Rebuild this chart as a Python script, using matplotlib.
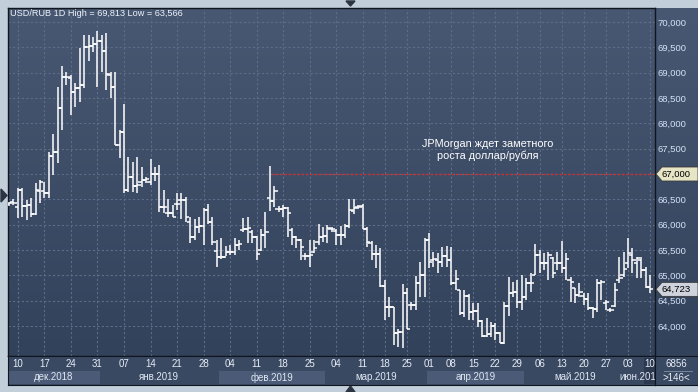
import numpy as np
import matplotlib
matplotlib.use('Agg')
import matplotlib.pyplot as plt
import matplotlib.transforms as mtransforms
from matplotlib.colors import LinearSegmentedColormap
from matplotlib.patches import Rectangle, Polygon

plt.rcParams['font.family'] = ['Liberation Sans', 'DejaVu Sans']

# USD/RUB daily bars
opens = [66408, 66454, 66356, 66685, 66369, 66389, 66211, 66672, 66672, 66632,
         67356, 67441, 68297, 68922, 68889, 68625, 68691, 68757, 69501, 69527,
         69566, 69632, 69435, 68954, 68724, 67573, 67836, 66685, 66948, 66764,
         66849, 66882, 66849, 67000, 67000, 66343, 66237, 66224, 66408, 66487,
         66487, 66050, 65750, 65960, 65980, 66289, 66059, 65486, 65355, 65368,
         65467, 65467, 65598, 65900, 65908, 65850, 65750, 65500, 65796, 66519,
         66460, 66302, 66302, 66322, 65900, 65763, 65697, 65381, 65381, 65460,
         65650, 65750, 65776, 65914, 65880, 65796, 65796, 65973, 66276, 66342,
         66368, 65908, 65632, 65421, 65421, 64789, 64381, 64381, 63868, 63888,
         64645, 64414, 64414, 64842, 65007, 65697, 65303, 65303, 65270, 65381,
         65303, 64855, 64710, 64263, 64592, 64283, 64302, 64105, 63802, 63842,
         63999, 63855, 63671, 64395, 64645, 64678, 64480, 64579, 64842, 65006,
         65401, 65237, 65250, 65350, 65237, 65237, 65138, 64900, 64743, 64612,
         64600, 64526, 64349, 64329, 64855, 64450, 64316, 64400, 64900, 65000,
         65250, 65400, 65250, 65300, 65105, 64776]
highs = [66454, 66500, 66718, 66718, 66487, 66520, 66816, 66882, 66849, 67441,
         67790, 68724, 69132, 69020, 68954, 68790, 69481, 69744, 69744, 69711,
         69813, 69744, 69790, 69020, 69020, 67869, 68382, 67343, 67244, 67343,
         67145, 66948, 67290, 67145, 67178, 66685, 66500, 66389, 66619, 66619,
         66553, 66157, 66110, 66144, 66322, 66408, 66144, 65700, 65730, 65578,
         65598, 65730, 65697, 66125, 66144, 65894, 65776, 65908, 66256, 67157,
         66763, 66368, 66388, 66342, 65927, 65776, 65710, 65433, 65697, 65697,
         66013, 65947, 65993, 65960, 65908, 65973, 66013, 66500, 66500, 66388,
         66408, 65961, 65684, 65599, 65533, 64908, 64566, 64381, 63934, 64829,
         64743, 64480, 64987, 65270, 65730, 65829, 65467, 65434, 65566, 65579,
         65566, 65105, 64710, 64710, 64631, 64447, 64447, 64118, 64151, 64085,
         64052, 63888, 64480, 64959, 64875, 64908, 65006, 64941, 65039, 65618,
         65500, 65434, 65467, 65368, 65467, 65684, 65434, 64974, 64743, 64842,
         64645, 64645, 64368, 64921, 64908, 64513, 64349, 64842, 65368, 65467,
         65730, 65533, 65368, 65368, 65171, 65006]
lows = [66369, 66382, 66125, 66158, 66092, 66158, 66191, 66421, 66520, 66520,
        66981, 67224, 67869, 68757, 68165, 68329, 68428, 68691, 69237, 69415,
        68724, 69020, 68658, 68494, 67573, 67310, 66619, 66652, 66652, 66619,
        66750, 66816, 66783, 66869, 66257, 66237, 66158, 66145, 66290, 66105,
        66050, 65631, 65700, 65829, 65598, 66013, 65598, 65171, 65315, 65381,
        65400, 65400, 65500, 65861, 65631, 65644, 65302, 65486, 65533, 66276,
        66342, 66256, 66144, 65763, 65598, 65533, 65302, 65302, 65171, 65447,
        65598, 65664, 65631, 65861, 65598, 65598, 65730, 65927, 66211, 66303,
        65908, 65566, 65303, 65138, 64776, 64118, 64171, 63625, 63592, 63566,
        63934, 64316, 64316, 64579, 64566, 65138, 65171, 65039, 65171, 65171,
        64809, 64710, 64217, 64184, 64118, 64118, 63986, 63789, 63789, 63789,
        63724, 63658, 63645, 64197, 64579, 64349, 64316, 64513, 64678, 65006,
        65039, 65105, 64908, 64941, 65105, 65039, 64908, 64480, 64447, 64579,
        64414, 64316, 64151, 64283, 64513, 64316, 64283, 64382, 64842, 64974,
        65138, 65039, 64941, 64941, 64743, 64645]
closes = [66422, 66422, 66685, 66369, 66389, 66211, 66685, 66849, 66632, 67356,
          67441, 68297, 68922, 68908, 68625, 68691, 68757, 69501, 69527, 69566,
          69632, 69435, 68974, 68724, 67573, 67836, 66685, 66948, 66764, 66783,
          66882, 66895, 67000, 67000, 66343, 66343, 66224, 66158, 66408, 66487,
          66150, 65750, 65960, 65980, 66289, 66059, 65650, 65355, 65368, 65467,
          65467, 65598, 65618, 65908, 65927, 65750, 65421, 65796, 65861, 66460,
          66671, 66302, 66322, 66223, 65763, 65697, 65565, 65381, 65401, 65533,
          65750, 65776, 65927, 65914, 65796, 65796, 65973, 66289, 66322, 66355,
          65908, 65664, 65421, 65421, 64789, 64381, 64381, 63855, 63888, 64645,
          63934, 64414, 64842, 65007, 65697, 65270, 65316, 65270, 65381, 65303,
          64855, 64921, 64263, 64592, 64283, 64302, 64105, 63802, 63842, 63999,
          63855, 63671, 64395, 64645, 64678, 64480, 64579, 64842, 64855, 65401,
          65237, 65250, 65401, 65039, 65237, 65138, 65316, 64875, 64612, 64678,
          64526, 64349, 64329, 64855, 64875, 64480, 64316, 64710, 64941, 65118,
          65434, 65303, 65335, 65105, 64776, 64723]

tick_pos = [2, 8, 14, 20, 26, 32, 38, 44, 50, 56, 62, 68, 74, 80, 85, 90, 95,
            100, 105, 110, 115, 120, 125, 130, 135, 140, 145]
tick_labels = ['10', '17', '24', '31', '07', '14', '21', '28', '04', '11', '18',
               '25', '04', '11', '18', '25', '01', '08', '15', '22', '29', '06',
               '13', '20', '27', '03', '10']
month_names = ['дек.2018', 'янв.2019', 'фев.2019', 'мар.2019', 'апр.2019',
               'май.2019', 'июн.2019']
month_starts = [-0.5, 20.5, 47.5, 71.5, 94.5, 116.5, 139.5]

level = 67000
level_from = 59.5
last_price = 64723
title = 'USD/RUB 1D High = 69,813 Low = 63,566'
note = 'JPMorgan ждет заметного\nроста доллар/рубля'

W, H = 698, 392
X0, X1 = -0.23, 146.1
Y0, Y1 = 63408, 70276


def box(x0, y0, x1, y1):
    # pixel box (from top-left) -> figure fraction rect
    return [x0 / W, 1 - y1 / H, (x1 - x0) / W, (y1 - y0) / H]


fig = plt.figure(figsize=(W / 100, H / 100), dpi=100)
fig.patch.set_facecolor('#c3cedb')

# gradient background for plot + price scale
bg = fig.add_axes(box(8, 8, 698, 356), zorder=0)
cmap = LinearSegmentedColormap.from_list('bg', ['#485872', '#33425b'])
bg.imshow(np.linspace(0, 1, 256).reshape(-1, 1), cmap=cmap, aspect='auto',
          extent=[0, 1, 0, 1])
bg.set_axis_off()

ax = fig.add_axes(box(8, 8, 655, 356), zorder=1)
ax.set_facecolor('none')
ax.set_xlim(X0, X1)
ax.set_ylim(Y0, Y1)

grid_c = '#5d6d88'
yt = list(range(64000, 70001, 500))
ax.set_xticks(tick_pos)
ax.set_yticks(yt)
ax.grid(True, color=grid_c, linestyle=(0, (2, 2)), linewidth=0.8)
ax.set_axisbelow(True)
ax.yaxis.tick_right()
# the 67,000 label sits under the level tag
ax.set_yticklabels(['' if v == level else f'{v:,}' for v in yt])
ax.tick_params(axis='y', length=0, pad=2, labelsize=6.8, labelcolor='#d3e2f6')
ax.tick_params(axis='x', length=0, labelbottom=False)
for s in ax.spines.values():
    s.set_color('#10161f')
    s.set_linewidth(1)

# OHLC bars
x = np.arange(len(closes))
ax.vlines(x, lows, highs, color='white', lw=1.1, zorder=3)
ax.hlines(opens, x - 0.75, x, color='white', lw=1.1, zorder=3)
ax.hlines(closes, x, x + 0.75, color='white', lw=1.1, zorder=3)

# 67,000 level
ax.hlines(level, level_from, X1, color='#d42a2a', lw=1,
          linestyle=(0, (1.5, 1.5)), zorder=2)

# price tags on the scale
trans = mtransforms.blended_transform_factory(fig.transFigure, ax.transData)
hh = 7 * (Y1 - Y0) / 348


def tag(price, color):
    pts = [(656 / W, price), (662 / W, price + hh), (698 / W, price + hh),
           (698 / W, price - hh), (662 / W, price - hh)]
    ax.add_patch(Polygon(pts, closed=True, transform=trans, facecolor=color,
                         edgecolor='#3a3a3a', lw=0.6, clip_on=False, zorder=5))
    ax.text(661 / W, price, f'{price:,}', transform=trans, va='center',
            ha='left', fontsize=6.8, color='black', clip_on=False, zorder=6)


tag(level, '#e6e6c6')
tag(last_price, '#cfd3db')

fig.text(10 / W, 1 - 14 / H, title, fontsize=6.6, color='#eef3fa', va='center')
fig.text(488 / W, 1 - 150 / H, note, fontsize=7.8, color='white', ha='center',
         va='center', multialignment='center', linespacing=1.1)

# date strip
strip = fig.add_axes(box(8, 356, 655, 385), zorder=1)
strip.set_facecolor('#3a4962')
strip.set_xlim(X0, X1)
strip.set_ylim(0, 1)
strip.set_xticks([])
strip.set_yticks([])
for s in strip.spines.values():
    s.set_color('#10161f')
edges = month_starts + [X1]
for k, name in enumerate(month_names):
    a, b = max(edges[k], X0), edges[k + 1]
    if k % 2 == 0 and k < 5:
        strip.add_patch(Rectangle((a, 0.04), b - a, 0.44, color='#4b5b77', lw=0))
    strip.text((a + b) / 2, 0.26, name, ha='center', va='center', fontsize=7,
               color='#dfe7f2', clip_on=True)
strip.add_patch(Rectangle((143.6, 0.04), X1 - 143.6, 0.9, color='#2b384f', lw=0))
for p, lab in zip(tick_pos, tick_labels):
    strip.text(p, 0.74, lab, ha='center', va='center', fontsize=7,
               color='#e6edf6', clip_on=True)

corner = fig.add_axes(box(655, 356, 698, 385), zorder=1)
corner.set_facecolor('#3a4962')
corner.plot([0.2, 0.85], [0.5, 0.5], color='#8090a8', lw=0.6)
corner.set_xlim(0, 1)
corner.set_ylim(0, 1)
corner.set_xticks([])
corner.set_yticks([])
for s in corner.spines.values():
    s.set_color('#10161f')
corner.text(0.5, 0.74, '6856', ha='center', va='center', fontsize=7, color='#e6edf6')
corner.text(0.5, 0.24, '>146<', ha='center', va='center', fontsize=7, color='#e6edf6')

# little scroll markers on the frame
mk = '#2c3443'
fig.add_artist(Polygon([(1 / W, 1 - 189 / H), (1 / W, 1 - 202 / H), (7 / W, 1 - 195.5 / H)],
                       transform=fig.transFigure, color=mk))
fig.add_artist(Polygon([(346 / W, 1 - 1 / H), (355 / W, 1 - 1 / H), (350.5 / W, 1 - 6 / H)],
                       transform=fig.transFigure, color=mk))
fig.add_artist(Polygon([(346 / W, 1 - 392 / H), (355 / W, 1 - 392 / H), (350.5 / W, 1 - 386 / H)],
                       transform=fig.transFigure, color=mk))

fig.savefig('out.png', dpi=100, facecolor=fig.get_facecolor())
